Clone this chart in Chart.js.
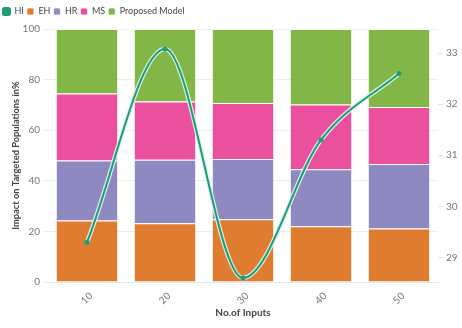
<!DOCTYPE html>
<html>
<head>
<meta charset="utf-8">
<script src="https://cdn.jsdelivr.net/npm/chart.js@4.4.1/dist/chart.umd.min.js"></script>
<style>
  html, body { margin: 0; padding: 0; background: #fff; }
  #wrap { width: 462px; height: 328px; }
</style>
</head>
<body>
<div id="wrap"><canvas id="myChart" width="462" height="328"></canvas></div>
<script>
const inputs = ["10", "20", "30", "40", "50"];
const hi = [29.3, 33.08, 28.6, 31.3, 32.6];
const eh = [24.3, 23.2, 24.8, 22.0, 21.1];
const hr = [23.7, 25.1, 23.8, 22.6, 25.5];
const ms = [26.5, 23.0, 22.2, 25.6, 22.6];
const proposed = [25.5, 28.7, 29.2, 29.8, 30.8];
const rightTicks = [29, 30, 31, 32, 33];

const fontFam = "Lato, 'Open Sans', sans-serif";

function barSet(label, data, color) {
  return {
    type: "bar",
    label: label,
    data: data,
    backgroundColor: color,
    borderColor: "rgba(255,255,255,0.75)",
    borderWidth: 1,
    yAxisID: "y",
    order: 1,
    categoryPercentage: 0.8,
    barPercentage: 1.0,
  };
}

// compact legend row, but keep the gap down to the plot
const legendGap = {
  id: "legendGap",
  beforeInit(chart) {
    const fit = chart.legend.fit;
    chart.legend.fit = function () {
      fit.call(this);
      this.height += 3;
    };
  },
};

const canvas = document.getElementById("myChart");
let myChart = new Chart(canvas, {
  data: {
    labels: inputs,
    datasets: [
      {
        type: "line",
        label: "HI",
        data: hi,
        borderColor: "#1b9e77",
        backgroundColor: "#1b9e77",
        borderWidth: 2,
        pointRadius: 2.5,
        pointBackgroundColor: "#1b9e77",
        pointBorderWidth: 0,
        cubicInterpolationMode: "monotone",
        yAxisID: "y1",
        order: 0,
      },
      {
        // light halo behind the line
        type: "line",
        label: "halo",
        data: hi,
        borderColor: "rgba(225,240,235,0.95)",
        borderWidth: 4.5,
        pointRadius: 0,
        cubicInterpolationMode: "monotone",
        yAxisID: "y1",
        order: 0,
      },
      barSet("EH", eh, "rgba(217,95,2,0.82)"),
      barSet("HR", hr, "rgba(117,112,179,0.82)"),
      barSet("MS", ms, "rgba(231,41,138,0.82)"),
      barSet("Proposed Model", proposed, "rgba(102,166,30,0.82)"),
    ],
  },
  plugins: [legendGap],
  options: {
    responsive: false,
    animation: false,
    events: [],
    layout: { padding: { left: 0, right: 0, top: 4, bottom: 0 } },
    plugins: {
      tooltip: { enabled: false },
      legend: {
        position: "top",
        align: "start",
        labels: {
          filter: (item) => item.text !== "halo",
          boxWidth: 7,
          boxHeight: 7,
          useBorderRadius: true,
          borderRadius: 1.5,
          padding: 3,
          color: "#444",
          font: { family: fontFam, size: 9 },
        },
      },
    },
    scales: {
      x: {
        stacked: true,
        offset: true,
        grid: { display: false },
        border: { color: "#e6e6e6" },
        ticks: {
          color: "#777",
          font: { family: fontFam, size: 10 },
          minRotation: 45,
          maxRotation: 45,
          labelOffset: 4,
          padding: 0,
        },
        title: {
          display: true,
          text: "No.of Inputs",
          color: "#444",
          font: { family: fontFam, size: 10, weight: "bold" },
          padding: { top: 4, bottom: 9 },
        },
        afterFit: (s) => { s.height = 46; },
      },
      y: {
        stacked: true,
        min: 0,
        max: 100,
        position: "left",
        grid: { color: "#eeeeee", tickLength: 5 },
        border: { display: false },
        ticks: {
          stepSize: 20,
          color: "#777",
          font: { family: fontFam, size: 10 },
          padding: 3,
        },
        title: {
          display: true,
          text: "Impact on Targeted Populations in%",
          color: "#444",
          font: { family: fontFam, size: 9.3, weight: "bold" },
          padding: { top: 10, bottom: 0 },
        },
        afterFit: (s) => { s.width = 48; },
      },
      y1: {
        position: "right",
        min: 28.52,
        max: 33.47,
        grid: { drawOnChartArea: false, color: "#e0e0e0", tickLength: 5 },
        border: { display: false },
        afterBuildTicks: (s) => { s.ticks = rightTicks.map((v) => ({ value: v })); },
        ticks: {
          color: "#777",
          font: { family: fontFam, size: 10 },
          padding: 3,
        },
        afterFit: (s) => { s.width = 24; },
      },
    },
  },
});
</script>
</body>
</html>
